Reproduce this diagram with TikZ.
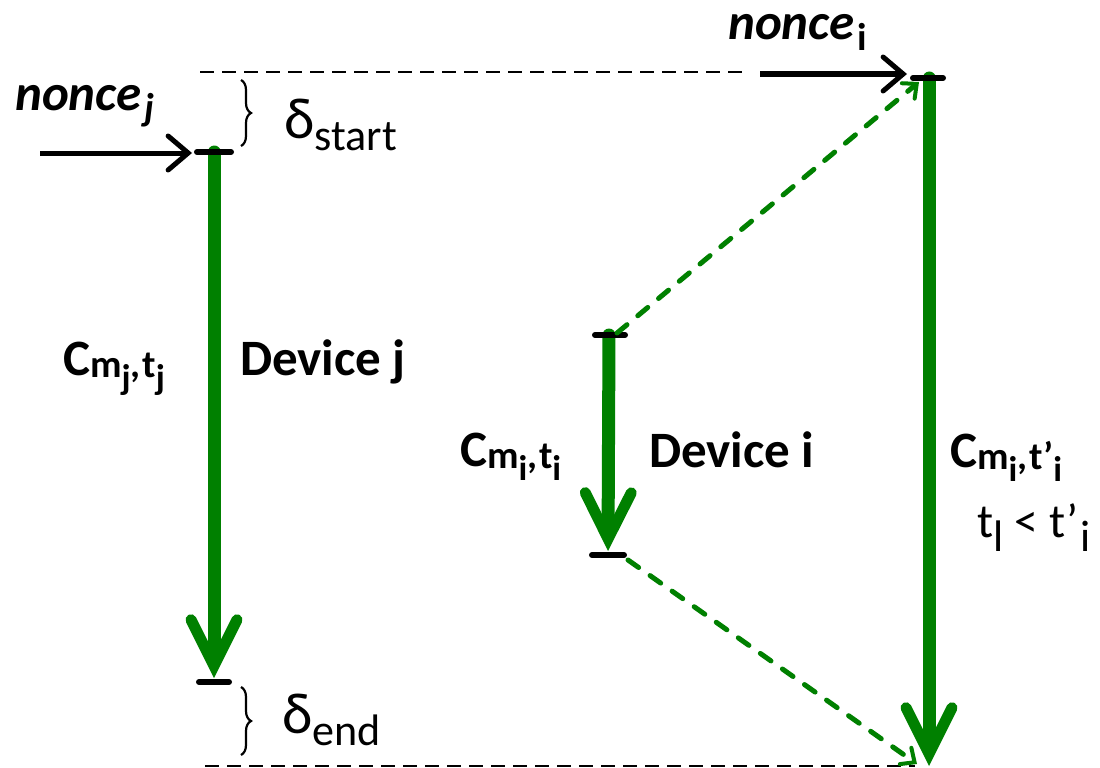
\documentclass[tikz,border=0pt]{standalone}
\usepackage{fontspec}
\usepackage{graphicx}
\setmainfont{Carlito}
\usetikzlibrary{arrows.meta,decorations.pathreplacing,positioning}
\definecolor{devgreen}{RGB}{0,128,0}
\newcommand{\dn}[2][0.05em]{\raisebox{-#1}{\scalebox{0.76}{#2}}}
\newcommand{\ddn}[1]{\raisebox{-0.3em}{\scalebox{0.92}{#1}}}
\tikzset{
  bar/.style={line width=6pt, line cap=round},
  lifeline/.style={devgreen, line width=13pt, line cap=round, -{Straight Barb[length=46pt,width=46pt,line width=11pt,line cap=round,line join=miter]}},
  relay/.style={devgreen, line width=5pt, line cap=round, dash pattern=on 13pt off 14pt, -{Straight Barb[length=11pt,width=20pt,line width=4pt,line cap=round]}},
  guide/.style={line width=1.8pt, dash pattern=on 14pt off 8pt},
  input/.style={line width=5pt, -{Straight Barb[length=20pt,width=34pt,line width=5pt,line cap=round]}},
  span/.style={decorate, decoration={brace,amplitude=10pt,aspect=0.5}, line width=2.2pt},
  lbl/.style={inner sep=0pt, anchor=base west, font=\fontsize{51}{60}\selectfont\bfseries},
  dlt/.style={inner sep=0pt, anchor=base west, font=\fontsize{58}{66}\selectfont},
}
\begin{document}
\begin{tikzpicture}[x=1pt, y=-1pt]
        \useasboundingbox (0,0) rectangle (1100,768);
        % Punkty
        \coordinate (jtop) at (214,152);
        \coordinate (jbot) at (214,682);
        \coordinate (itop) at (609,335);
        \coordinate (ibot) at (608,555);
        \coordinate (rtop) at (929,78);
        \coordinate (rbot) at (929,766);
        \coordinate (njfrom) at (40,153);
        \coordinate (nifrom) at (760,74);

        % Linie pomocnicze
        \draw[guide] (200,72) -- (745,72);
        \draw[guide] (205,766) -- (915,766);

        % Urzadzenia
        \draw[lifeline] (jtop) -- ([yshift=4pt]jbot);
        \draw[lifeline] (itop) -- ([yshift=4pt]ibot);
        \draw[lifeline] (rtop) -- (rbot);
        \draw[bar] ([xshift=-17pt]jtop) -- ([xshift=17pt]jtop);
        \draw[bar] ([xshift=-15pt]jbot) -- ([xshift=15pt]jbot);
        \draw[bar] ([xshift=-14pt]itop) -- ([xshift=16pt]itop);
        \draw[bar] ([xshift=-16pt]ibot) -- ([xshift=16pt]ibot);
        \draw[bar] ([xshift=-16pt]rtop) -- ([xshift=14pt]rtop);

        % Przekazanie
        \draw[relay] ([xshift=8pt,yshift=2pt]itop) -- ([xshift=-10pt,yshift=-4pt]rtop);
        \draw[relay] ([xshift=20pt,yshift=-5pt]ibot) -- ([xshift=-12pt,yshift=2pt]rbot);

        % Nonce
        \draw[input] (njfrom) -- ([xshift=-22pt,yshift=-1pt]jtop);
        \draw[input] (nifrom) -- ([xshift=-22pt,yshift=4pt]rtop);
        \node[lbl, font=\fontsize{51}{58}\selectfont\bfseries\itshape] (noncej) at (15,110) {nonce\kern3pt\dn[0.2em]{j}};
        \node[lbl, font=\fontsize{51}{58}\selectfont\bfseries\itshape] (noncei) at (728,40) {nonce\kern3pt\dn[0.2em]{\upshape i}};

        % Klamry
        \draw[span] (241,80) -- (241,146);
        \draw[span] (241,687) -- (241,755);
        \node[dlt] (dstart) at (284,138) {δ\dn[0.22em]{start}};
        \node[dlt] (dend) at (282,733) {δ\dn[0.22em]{end}};

        % Opisy
        \node[lbl] (cj) at (63,375) {C\dn{m\ddn{j},\kern2pt t\ddn{j}}};
        \node[lbl] (devj) at (240,375) {Device j};
        \node[lbl] (ci) at (460,466) {C\dn{m\ddn{i},\kern2pt t\ddn{i}}};
        \node[lbl] (devi) at (649,467) {Device i};
        \node[lbl] (cr) at (950,467) {C\dn{m\ddn{i},\kern2pt t’\ddn{i}}};
        \node[lbl, font=\fontsize{48}{56}\selectfont] (order) at (977,537) {t\ddn{l} < t’\kern2pt\ddn{i}};
\end{tikzpicture}
\end{document}
